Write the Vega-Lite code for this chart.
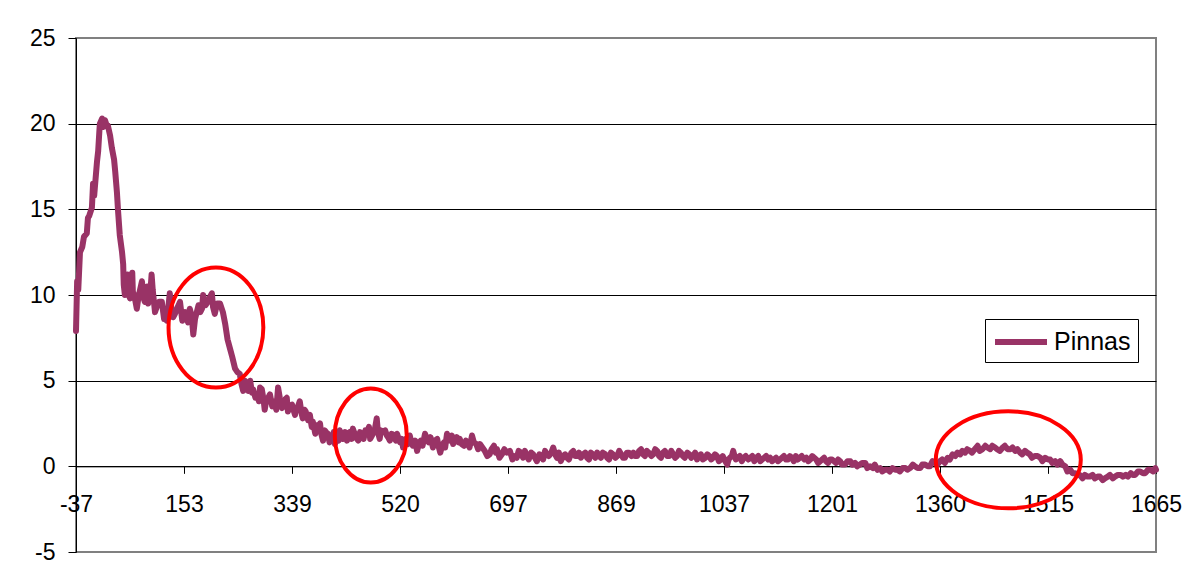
{
  "$schema": "https://vega.github.io/schema/vega-lite/v6.json",
  "width": 1080,
  "height": 514,
  "autosize": {"type": "none"},
  "padding": {"left": 76, "top": 38, "right": 27, "bottom": 31},
  "background": "white",
  "config": {
    "font": "Liberation Sans",
    "view": {"stroke": "#808080", "strokeWidth": 2}
  },
  "datasets": {
    "spectrum": [
      {"shift":-37,"value":7.9},{"shift":-35,"value":10.8},{"shift":-33,"value":10.3},{"shift":-30,"value":12.5},{"shift":-26,"value":12.8},{"shift":-23,"value":13.4},{"shift":-18,"value":13.6},{"shift":-16,"value":14.5},{"shift":-14,"value":14.6},{"shift":-9,"value":15.1},{"shift":-7,"value":16.5},{"shift":-5,"value":15.8},{"shift":-4,"value":16.2},{"shift":0,"value":17.8},{"shift":2,"value":18.4},{"shift":4,"value":19.5},{"shift":5,"value":20.0},{"shift":9,"value":20.3},{"shift":11,"value":19.8},{"shift":14,"value":20.2},{"shift":17,"value":19.9},{"shift":19,"value":19.9},{"shift":23,"value":19.3},{"shift":26,"value":18.6},{"shift":30,"value":17.9},{"shift":32,"value":17.2},{"shift":35,"value":16.0},{"shift":37,"value":14.9},{"shift":40,"value":13.5},{"shift":44,"value":12.5},{"shift":46,"value":11.8},{"shift":47,"value":10.6},{"shift":49,"value":10.0},{"shift":52,"value":10.2},{"shift":54,"value":11.2},{"shift":56,"value":10.0},{"shift":58,"value":9.8},{"shift":62,"value":11.3},{"shift":63,"value":10.2},{"shift":66,"value":9.9},{"shift":70,"value":9.2},{"shift":73,"value":9.9},{"shift":75,"value":10.2},{"shift":79,"value":10.8},{"shift":82,"value":9.8},{"shift":84,"value":9.6},{"shift":88,"value":10.5},{"shift":90,"value":9.5},{"shift":93,"value":9.8},{"shift":96,"value":11.2},{"shift":98,"value":10.3},{"shift":102,"value":9.0},{"shift":105,"value":9.3},{"shift":109,"value":9.6},{"shift":114,"value":9.6},{"shift":118,"value":8.6},{"shift":121,"value":9.2},{"shift":123,"value":8.5},{"shift":128,"value":10.1},{"shift":131,"value":9.1},{"shift":134,"value":8.7},{"shift":137,"value":8.9},{"shift":142,"value":9.3},{"shift":146,"value":9.6},{"shift":150,"value":8.5},{"shift":153,"value":8.8},
      {"shift":155,"value":9.0},{"shift":160,"value":8.4},{"shift":163,"value":9.2},{"shift":166,"value":8.8},{"shift":169,"value":7.7},{"shift":172,"value":8.6},{"shift":175,"value":9.0},{"shift":178,"value":9.4},{"shift":181,"value":9.0},{"shift":184,"value":9.2},{"shift":186,"value":10.0},{"shift":190,"value":9.4},{"shift":194,"value":9.6},{"shift":198,"value":9.9},{"shift":201,"value":10.1},{"shift":203,"value":9.3},{"shift":206,"value":8.9},{"shift":210,"value":9.5},{"shift":215,"value":9.5},{"shift":220,"value":9.0},{"shift":224,"value":8.3},{"shift":228,"value":7.4},{"shift":232,"value":6.9},{"shift":236,"value":6.4},{"shift":241,"value":5.7},{"shift":245,"value":5.5},{"shift":249,"value":5.4},{"shift":252,"value":4.8},{"shift":255,"value":4.4},{"shift":258,"value":5.0},{"shift":260,"value":4.9},{"shift":264,"value":4.4},{"shift":267,"value":5.0},{"shift":270,"value":4.3},{"shift":272,"value":4.5},{"shift":276,"value":4.0},{"shift":279,"value":4.2},{"shift":282,"value":3.8},{"shift":284,"value":4.6},{"shift":287,"value":4.5},{"shift":290,"value":3.9},{"shift":292,"value":3.3},{"shift":295,"value":3.9},{"shift":298,"value":4.0},{"shift":301,"value":4.2},{"shift":305,"value":3.5},{"shift":308,"value":3.8},{"shift":312,"value":3.3},{"shift":315,"value":4.6},{"shift":318,"value":4.0},{"shift":322,"value":3.4},{"shift":324,"value":3.8},{"shift":327,"value":3.9},{"shift":330,"value":4.0},{"shift":332,"value":3.2},{"shift":335,"value":3.5},
      {"shift":339,"value":3.6},{"shift":344,"value":3.0},{"shift":346,"value":3.4},{"shift":349,"value":3.5},{"shift":352,"value":3.8},{"shift":355,"value":3.1},{"shift":357,"value":2.8},{"shift":360,"value":3.3},{"shift":362,"value":3.2},{"shift":366,"value":2.7},{"shift":369,"value":3.0},{"shift":372,"value":2.3},{"shift":374,"value":2.6},{"shift":378,"value":1.9},{"shift":380,"value":2.4},{"shift":383,"value":2.3},{"shift":386,"value":2.5},{"shift":388,"value":1.9},{"shift":391,"value":1.5},{"shift":394,"value":2.1},{"shift":396,"value":2.0},{"shift":399,"value":1.9},{"shift":402,"value":1.4},{"shift":406,"value":1.6},{"shift":409,"value":2.0},{"shift":411,"value":1.3},{"shift":414,"value":1.8},{"shift":417,"value":1.5},{"shift":419,"value":2.1},{"shift":422,"value":1.7},{"shift":424,"value":1.6},{"shift":428,"value":2.0},{"shift":431,"value":1.5},{"shift":434,"value":1.9},{"shift":436,"value":2.0},{"shift":439,"value":1.6},{"shift":441,"value":2.2},{"shift":444,"value":1.9},{"shift":446,"value":1.7},{"shift":450,"value":1.5},{"shift":453,"value":2.0},{"shift":456,"value":1.9},{"shift":459,"value":1.6},{"shift":462,"value":2.1},{"shift":465,"value":2.0},{"shift":468,"value":2.3},{"shift":470,"value":1.6},{"shift":473,"value":1.8},{"shift":476,"value":2.0},{"shift":478,"value":2.2},{"shift":481,"value":2.8},{"shift":483,"value":2.0},{"shift":486,"value":1.6},{"shift":488,"value":2.1},{"shift":491,"value":2.0},{"shift":495,"value":2.1},{"shift":498,"value":1.8},{"shift":500,"value":1.7},{"shift":503,"value":1.5},{"shift":506,"value":1.9},{"shift":510,"value":1.8},{"shift":513,"value":1.5},{"shift":515,"value":1.9},{"shift":518,"value":1.6},{"shift":520,"value":1.4},
      {"shift":523,"value":1.6},{"shift":525,"value":1.1},{"shift":528,"value":1.4},{"shift":530,"value":1.6},{"shift":533,"value":1.3},{"shift":536,"value":1.8},{"shift":538,"value":1.5},{"shift":541,"value":1.2},{"shift":545,"value":1.5},{"shift":548,"value":0.9},{"shift":551,"value":1.3},{"shift":554,"value":1.5},{"shift":557,"value":1.2},{"shift":561,"value":1.9},{"shift":564,"value":1.6},{"shift":567,"value":1.4},{"shift":570,"value":1.7},{"shift":574,"value":1.1},{"shift":577,"value":1.5},{"shift":581,"value":1.6},{"shift":583,"value":1.2},{"shift":586,"value":0.8},{"shift":589,"value":1.2},{"shift":592,"value":1.4},{"shift":594,"value":1.1},{"shift":597,"value":1.9},{"shift":600,"value":1.6},{"shift":602,"value":1.5},{"shift":605,"value":1.8},{"shift":607,"value":1.3},{"shift":610,"value":1.5},{"shift":613,"value":1.7},{"shift":616,"value":1.4},{"shift":618,"value":1.6},{"shift":621,"value":1.3},{"shift":625,"value":1.2},{"shift":628,"value":1.5},{"shift":630,"value":1.4},{"shift":634,"value":1.1},{"shift":638,"value":1.8},{"shift":641,"value":1.4},{"shift":645,"value":1.3},{"shift":648,"value":1.0},{"shift":651,"value":1.3},{"shift":655,"value":1.1},{"shift":659,"value":0.9},{"shift":663,"value":0.6},{"shift":667,"value":0.7},{"shift":670,"value":1.0},{"shift":674,"value":1.2},{"shift":677,"value":0.8},{"shift":679,"value":1.0},{"shift":683,"value":0.5},{"shift":687,"value":0.7},{"shift":691,"value":1.0},{"shift":695,"value":0.8},
      {"shift":700,"value":0.9},{"shift":704,"value":0.4},{"shift":707,"value":0.6},{"shift":711,"value":0.5},{"shift":714,"value":0.9},{"shift":718,"value":0.8},{"shift":721,"value":0.5},{"shift":724,"value":0.9},{"shift":727,"value":0.6},{"shift":730,"value":0.4},{"shift":734,"value":0.8},{"shift":737,"value":0.7},{"shift":740,"value":0.5},{"shift":743,"value":0.3},{"shift":747,"value":0.7},{"shift":750,"value":0.6},{"shift":753,"value":0.4},{"shift":756,"value":0.9},{"shift":759,"value":0.7},{"shift":762,"value":0.6},{"shift":766,"value":0.8},{"shift":769,"value":1.1},{"shift":772,"value":0.7},{"shift":775,"value":0.5},{"shift":778,"value":0.8},{"shift":781,"value":0.3},{"shift":785,"value":0.6},{"shift":788,"value":0.7},{"shift":791,"value":0.5},{"shift":794,"value":0.4},{"shift":798,"value":0.8},{"shift":801,"value":0.9},{"shift":804,"value":0.6},{"shift":807,"value":0.6},{"shift":810,"value":0.8},{"shift":813,"value":0.5},{"shift":817,"value":0.7},{"shift":820,"value":0.8},{"shift":823,"value":0.5},{"shift":826,"value":0.4},{"shift":829,"value":0.8},{"shift":832,"value":0.7},{"shift":836,"value":0.5},{"shift":839,"value":0.8},{"shift":842,"value":0.6},{"shift":845,"value":0.5},{"shift":848,"value":0.8},{"shift":852,"value":0.7},{"shift":855,"value":0.5},{"shift":858,"value":0.4},{"shift":861,"value":0.8},{"shift":864,"value":0.7},
      {"shift":868,"value":0.5},{"shift":871,"value":0.6},{"shift":874,"value":0.9},{"shift":877,"value":0.7},{"shift":880,"value":0.5},{"shift":883,"value":0.5},{"shift":886,"value":0.8},{"shift":889,"value":0.8},{"shift":893,"value":0.6},{"shift":896,"value":0.8},{"shift":899,"value":0.6},{"shift":902,"value":0.6},{"shift":905,"value":0.9},{"shift":908,"value":1.0},{"shift":911,"value":0.7},{"shift":914,"value":0.6},{"shift":917,"value":0.9},{"shift":920,"value":0.8},{"shift":924,"value":0.6},{"shift":927,"value":0.7},{"shift":930,"value":1.0},{"shift":933,"value":0.9},{"shift":936,"value":0.6},{"shift":939,"value":0.5},{"shift":942,"value":0.8},{"shift":945,"value":0.9},{"shift":949,"value":0.6},{"shift":952,"value":0.6},{"shift":955,"value":0.9},{"shift":958,"value":0.7},{"shift":961,"value":0.5},{"shift":964,"value":0.6},{"shift":967,"value":0.9},{"shift":970,"value":0.8},{"shift":973,"value":0.6},{"shift":976,"value":0.5},{"shift":980,"value":0.8},{"shift":983,"value":0.7},{"shift":986,"value":0.5},{"shift":989,"value":0.6},{"shift":992,"value":0.8},{"shift":995,"value":0.4},{"shift":998,"value":0.6},{"shift":1001,"value":0.7},{"shift":1004,"value":0.4},{"shift":1008,"value":0.5},{"shift":1011,"value":0.7},{"shift":1014,"value":0.6},{"shift":1017,"value":0.4},{"shift":1020,"value":0.5},{"shift":1023,"value":0.7},{"shift":1026,"value":0.6},{"shift":1029,"value":0.3},{"shift":1032,"value":0.4},{"shift":1035,"value":0.6},
      {"shift":1039,"value":0.3},{"shift":1042,"value":0.1},{"shift":1044,"value":0.4},{"shift":1046,"value":0.5},{"shift":1049,"value":0.6},{"shift":1051,"value":0.9},{"shift":1053,"value":0.6},{"shift":1055,"value":0.4},{"shift":1058,"value":0.5},{"shift":1061,"value":0.6},{"shift":1064,"value":0.3},{"shift":1067,"value":0.5},{"shift":1070,"value":0.6},{"shift":1074,"value":0.4},{"shift":1077,"value":0.5},{"shift":1080,"value":0.6},{"shift":1083,"value":0.3},{"shift":1086,"value":0.5},{"shift":1089,"value":0.6},{"shift":1092,"value":0.3},{"shift":1095,"value":0.4},{"shift":1098,"value":0.5},{"shift":1101,"value":0.6},{"shift":1104,"value":0.4},{"shift":1107,"value":0.5},{"shift":1110,"value":0.3},{"shift":1113,"value":0.4},{"shift":1116,"value":0.5},{"shift":1119,"value":0.3},{"shift":1122,"value":0.4},{"shift":1125,"value":0.5},{"shift":1128,"value":0.6},{"shift":1131,"value":0.4},{"shift":1134,"value":0.4},{"shift":1137,"value":0.6},{"shift":1140,"value":0.5},{"shift":1143,"value":0.3},{"shift":1146,"value":0.6},{"shift":1149,"value":0.4},{"shift":1152,"value":0.5},{"shift":1155,"value":0.6},{"shift":1159,"value":0.4},{"shift":1162,"value":0.5},{"shift":1165,"value":0.3},{"shift":1168,"value":0.4},{"shift":1171,"value":0.6},{"shift":1174,"value":0.5},{"shift":1177,"value":0.4},{"shift":1180,"value":0.2},{"shift":1183,"value":0.3},{"shift":1186,"value":0.4},{"shift":1189,"value":0.5},{"shift":1192,"value":0.3},{"shift":1195,"value":0.2},{"shift":1198,"value":0.4},
      {"shift":1201,"value":0.4},{"shift":1204,"value":0.3},{"shift":1207,"value":0.2},{"shift":1210,"value":0.4},{"shift":1213,"value":0.3},{"shift":1216,"value":0.1},{"shift":1220,"value":0.1},{"shift":1224,"value":0.3},{"shift":1228,"value":0.3},{"shift":1231,"value":0.1},{"shift":1235,"value":0.2},{"shift":1238,"value":0.0},{"shift":1242,"value":0.1},{"shift":1246,"value":0.2},{"shift":1250,"value":0.2},{"shift":1253,"value":-0.1},{"shift":1257,"value":0.0},{"shift":1261,"value":-0.1},{"shift":1264,"value":0.1},{"shift":1268,"value":-0.2},{"shift":1272,"value":-0.1},{"shift":1275,"value":-0.3},{"shift":1279,"value":-0.2},{"shift":1283,"value":-0.2},{"shift":1286,"value":-0.3},{"shift":1290,"value":-0.1},{"shift":1294,"value":-0.2},{"shift":1297,"value":-0.2},{"shift":1301,"value":-0.3},{"shift":1305,"value":-0.1},{"shift":1309,"value":-0.1},{"shift":1312,"value":-0.2},{"shift":1316,"value":-0.1},{"shift":1320,"value":0.1},{"shift":1323,"value":0.0},{"shift":1327,"value":-0.1},{"shift":1331,"value":-0.1},{"shift":1334,"value":0.1},{"shift":1338,"value":0.1},{"shift":1342,"value":0.0},{"shift":1345,"value":0.0},{"shift":1349,"value":0.3},{"shift":1353,"value":0.2},{"shift":1356,"value":0.1},
      {"shift":1360,"value":0.3},{"shift":1363,"value":0.4},{"shift":1367,"value":0.2},{"shift":1371,"value":0.5},{"shift":1374,"value":0.4},{"shift":1378,"value":0.7},{"shift":1382,"value":0.6},{"shift":1385,"value":0.8},{"shift":1389,"value":0.7},{"shift":1392,"value":0.9},{"shift":1396,"value":0.8},{"shift":1399,"value":1.0},{"shift":1403,"value":0.9},{"shift":1406,"value":0.8},{"shift":1410,"value":1.0},{"shift":1414,"value":1.2},{"shift":1417,"value":0.9},{"shift":1421,"value":1.0},{"shift":1425,"value":1.2},{"shift":1428,"value":1.1},{"shift":1432,"value":1.0},{"shift":1435,"value":1.2},{"shift":1439,"value":1.1},{"shift":1442,"value":1.0},{"shift":1446,"value":0.9},{"shift":1450,"value":1.1},{"shift":1453,"value":1.2},{"shift":1457,"value":1.0},{"shift":1461,"value":1.0},{"shift":1464,"value":1.1},{"shift":1468,"value":0.9},{"shift":1471,"value":1.0},{"shift":1475,"value":0.8},{"shift":1478,"value":0.7},{"shift":1482,"value":0.9},{"shift":1485,"value":0.8},{"shift":1489,"value":0.7},{"shift":1492,"value":0.5},{"shift":1496,"value":0.6},{"shift":1500,"value":0.6},{"shift":1504,"value":0.5},{"shift":1507,"value":0.3},{"shift":1511,"value":0.5},
      {"shift":1515,"value":0.4},{"shift":1518,"value":0.4},{"shift":1521,"value":0.2},{"shift":1525,"value":0.3},{"shift":1528,"value":0.1},{"shift":1532,"value":0.3},{"shift":1535,"value":0.1},{"shift":1539,"value":0.0},{"shift":1542,"value":-0.3},{"shift":1546,"value":-0.2},{"shift":1549,"value":-0.4},{"shift":1553,"value":-0.4},{"shift":1556,"value":-0.5},{"shift":1559,"value":-0.5},{"shift":1563,"value":-0.7},{"shift":1566,"value":-0.5},{"shift":1570,"value":-0.6},{"shift":1573,"value":-0.6},{"shift":1577,"value":-0.5},{"shift":1580,"value":-0.7},{"shift":1584,"value":-0.6},{"shift":1587,"value":-0.6},{"shift":1591,"value":-0.8},{"shift":1594,"value":-0.7},{"shift":1598,"value":-0.6},{"shift":1601,"value":-0.5},{"shift":1605,"value":-0.7},{"shift":1608,"value":-0.6},{"shift":1612,"value":-0.5},{"shift":1616,"value":-0.5},{"shift":1619,"value":-0.6},{"shift":1623,"value":-0.5},{"shift":1626,"value":-0.6},{"shift":1630,"value":-0.4},{"shift":1633,"value":-0.5},{"shift":1636,"value":-0.5},{"shift":1640,"value":-0.3},{"shift":1643,"value":-0.3},{"shift":1647,"value":-0.4},{"shift":1650,"value":-0.4},{"shift":1654,"value":-0.2},{"shift":1657,"value":-0.2},{"shift":1661,"value":-0.3},{"shift":1664,"value":-0.1},{"shift":1665,"value":-0.2}
    ]
  },
  "layer": [
    {
      "data": {"name": "spectrum"},
      "mark": {"type": "line", "strokeWidth": 6, "strokeJoin": "round", "strokeCap": "round"},
      "encoding": {
        "x": {
          "field": "shift",
          "type": "quantitative",
          "scale": {
            "domain": [-37, 153, 339, 520, 697, 869, 1037, 1201, 1360, 1515, 1665],
            "range": [0, 108, 216, 324, 432, 540, 648, 756, 864, 972, 1080],
            "nice": false,
            "zero": false
          },
          "axis": {
            "values": [-37, 153, 339, 520, 697, 869, 1037, 1201, 1360, 1515, 1665],
            "format": "d",
            "labelExpr": "replace(datum.label, '\u2212', '-')",
            "title": null,
            "grid": false,
            "offset": -85.667,
            "domainColor": "#000000",
            "domainWidth": 1,
            "tickColor": "#000000",
            "tickSize": 7,
            "labelFontSize": 23,
            "labelColor": "#000000",
            "labelPadding": 20,
            "labelFlush": false,
            "labelOverlap": false
          }
        },
        "y": {
          "field": "value",
          "type": "quantitative",
          "scale": {"domain": [-5, 25], "nice": false, "zero": false},
          "axis": {
            "values": [-5, 0, 5, 10, 15, 20, 25],
            "format": "d",
            "labelExpr": "replace(datum.label, '\u2212', '-')",
            "title": null,
            "grid": true,
            "gridColor": {"condition": {"test": "datum.value === 25 || datum.value === -5", "value": "#808080"}, "value": "#000000"},
            "gridWidth": 1,
            "gridOpacity": 1,
            "domainColor": "#000000",
            "tickColor": "#000000",
            "tickSize": 8,
            "labelFontSize": 23,
            "labelColor": "#000000",
            "labelPadding": 13
          }
        },
        "color": {
          "datum": "Pinnas",
          "type": "nominal",
          "scale": {"range": ["#993366"]},
          "legend": {
            "title": null,
            "orient": "none",
            "legendX": 909,
            "legendY": 281,
            "strokeColor": "#000000",
            "fillColor": "#ffffff",
            "padding": 7,
            "symbolType": "M -1 0 L 3 0",
            "symbolStrokeWidth": 6,
            "symbolSize": 676,
            "labelFontSize": 25,
            "labelColor": "#000000",
            "labelOffset": 30
          }
        }
      }
    },
    {
      "data": {"values": [{"shift": 208, "value": 8.1}]},
      "mark": {
        "type": "point",
        "shape": "M 0.79 0 C 0.79 0.552 0.436 1 0 1 C -0.436 1 -0.79 0.552 -0.79 0 C -0.79 -0.552 -0.436 -1 0 -1 C 0.436 -1 0.79 -0.552 0.79 0 Z",
        "size": 14400,
        "filled": false,
        "stroke": "#ff0000",
        "strokeWidth": 4,
        "opacity": 1
      },
      "encoding": {
        "x": {"field": "shift", "type": "quantitative"},
        "y": {"field": "value", "type": "quantitative"}
      }
    },
    {
      "data": {"values": [{"shift": 471, "value": 1.8}]},
      "mark": {
        "type": "point",
        "shape": "M 0.766 0 C 0.766 0.552 0.423 1 0 1 C -0.423 1 -0.766 0.552 -0.766 0 C -0.766 -0.552 -0.423 -1 0 -1 C 0.423 -1 0.766 -0.552 0.766 0 Z",
        "size": 8836,
        "filled": false,
        "stroke": "#ff0000",
        "strokeWidth": 4,
        "opacity": 1
      },
      "encoding": {
        "x": {"field": "shift", "type": "quantitative"},
        "y": {"field": "value", "type": "quantitative"}
      }
    },
    {
      "data": {"values": [{"shift": 1458, "value": 0.38}]},
      "mark": {
        "type": "point",
        "shape": "M 1 0 C 1 0.369 0.552 0.669 0 0.669 C -0.552 0.669 -1 0.369 -1 0 C -1 -0.369 -0.552 -0.669 0 -0.669 C 0.552 -0.669 1 -0.369 1 0 Z",
        "size": 21025,
        "filled": false,
        "stroke": "#ff0000",
        "strokeWidth": 4,
        "opacity": 1
      },
      "encoding": {
        "x": {"field": "shift", "type": "quantitative"},
        "y": {"field": "value", "type": "quantitative"}
      }
    }
  ]
}
